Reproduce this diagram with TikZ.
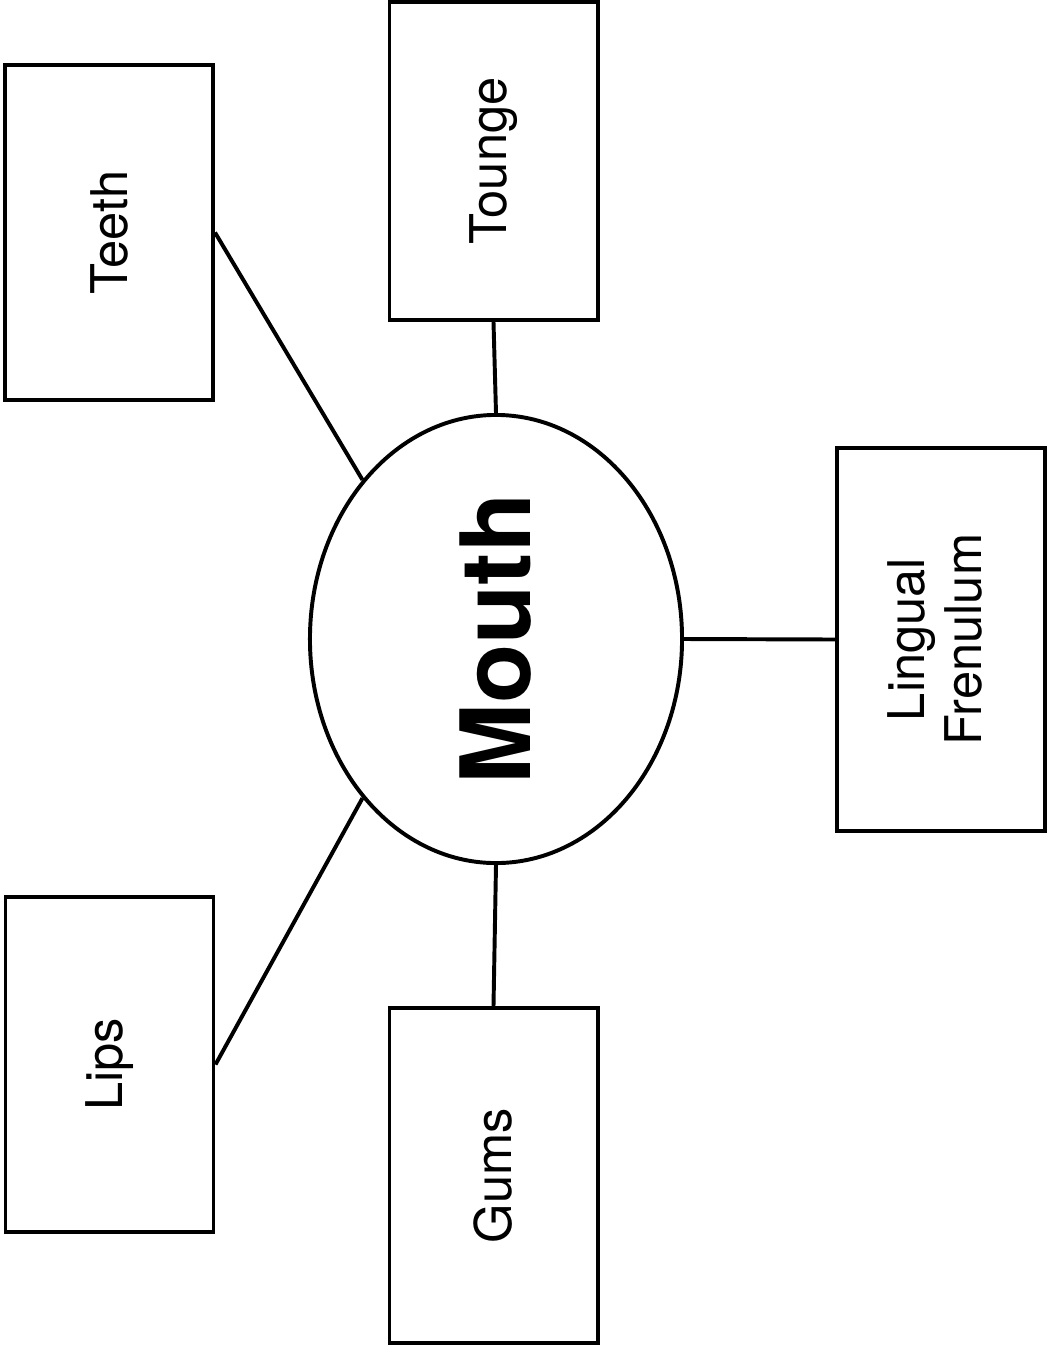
\documentclass[tikz,border=0pt]{standalone}
\usepackage{fontspec}
\setmainfont{TeX Gyre Heros}
\usepackage{graphicx}
\usetikzlibrary{shapes.geometric}

\tikzset{
    partbox/.style={draw, line width=2.8pt, rectangle, inner sep=0pt,
        minimum width=5.2cm, font=\fontsize{36}{43}\selectfont},
    mouthnode/.style={draw, line width=2.8pt, ellipse, inner sep=0pt,
        minimum width=9.3cm, minimum height=11.2cm,
        font=\fontsize{69}{75}\selectfont\bfseries},
    link/.style={line width=2.8pt}
}

\begin{document}
\begin{tikzpicture}[x=0.025cm, y=-0.025cm]

    % khung hình
    \useasboundingbox (0,0) rectangle (1048,1350);

    % =================================================================
    % NÚT TRUNG TÂM
    % =================================================================
    \node[mouthnode] (mouth) at (496,639) {\rotatebox{90}{Mouth}};

    % =================================================================
    % CÁC Ô XUNG QUANH
    % =================================================================
    \node[partbox, minimum height=8.375cm] (teeth) at (109,232.5) {\rotatebox{90}{Teeth}};
    \node[partbox, minimum height=7.95cm] (tounge) at (493.5,161) {\rotatebox{90}{Tounge}};
    \node[partbox, minimum height=9.575cm] (lingual) at (941,639.5)
        {\rotatebox{90}{\begin{tabular}{@{}c@{}}Lingual\\[-2pt]Frenulum\end{tabular}}};
    \node[partbox, minimum height=8.375cm] (lips) at (109.5,1064.5) {\rotatebox{90}{Lips}};
    \node[partbox, minimum height=8.375cm] (gums) at (493.5,1175.5) {\rotatebox{90}{Gums}};

    % =================================================================
    % ĐƯỜNG NỐI
    % =================================================================
    \draw[link] (teeth.east) -- (mouth.130);
    \draw[link] (tounge.south) -- (mouth.north);
    \draw[link] (mouth.east) -- (lingual.west);
    \draw[link] (lips.east) -- (mouth.230);
    \draw[link] (gums.north) -- (mouth.south);

\end{tikzpicture}
\end{document}
